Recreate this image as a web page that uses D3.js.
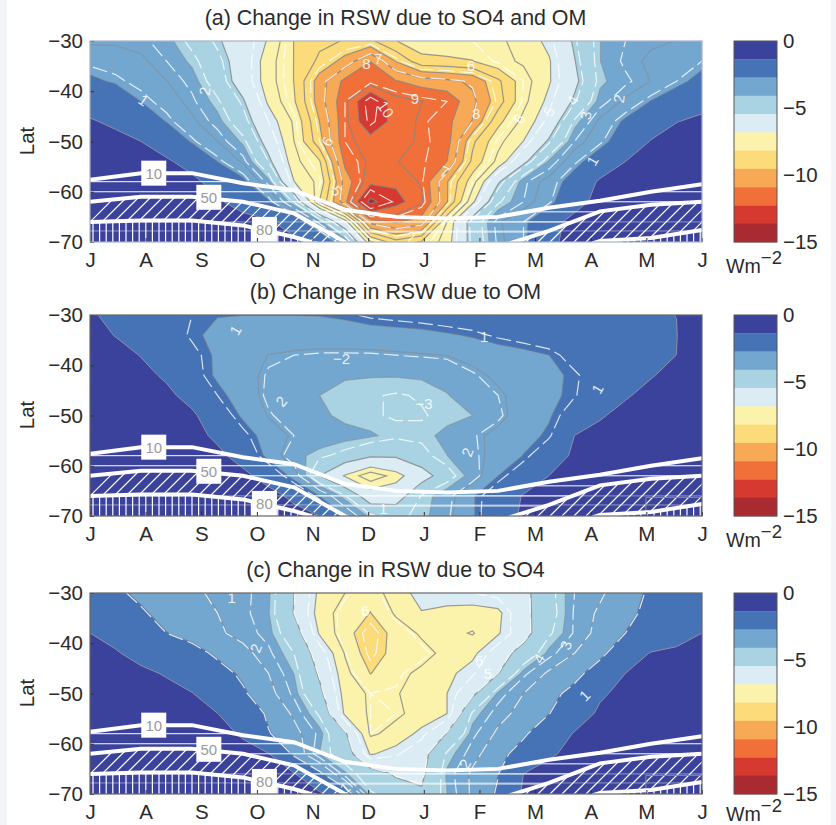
<!DOCTYPE html>
<html>
<head>
<meta charset="utf-8">
<script src="https://cdn.jsdelivr.net/npm/d3@7"></script>
<style>
  html, body { margin: 0; background: #fff; overflow: hidden; }
  svg { display: block; font-family: "Liberation Sans", Arial, sans-serif; }
</style>
</head>
<body>
<script>
// Tick labels
const months = ["J", "A", "S", "O", "N", "D", "J", "F", "M", "A", "M", "J"];
const latTicks = [-30, -40, -50, -60, -70];
const barTicks = [0, -5, -10, -15];

// Grid rows: latitude of each row of the fields below
const gridLats = [-30, -34, -38, -42, -46, -50, -54, -58, -62, -66, -70];

// Size of the RSW change in Wm-2 (sign dropped).
// One row per latitude, 25 columns evenly spaced along the time axis.
const rswA = [
  [3.5,3.5,3.6,3.9,4.6,5.35,6.0,6.9,8.2,8.7,8.9,9.0,8.2,7.8,7.8,7.8,7.6,7.3,6.6,5.3,4.1,3.7,3.5,3.4,3.4],
  [3.0,3.1,3.3,3.7,4.2,5.0,6.0,7.2,8.2,9.0,9.8,10.9,9.5,8.4,8.3,8.2,7.7,7.4,6.9,5.5,4.1,3.6,3.3,3.1,2.9],
  [2.6,2.8,3.05,3.4,3.85,4.8,5.95,7.2,8.2,9.9,11.1,11.2,10.95,10.6,10.4,10.1,9.0,7.8,6.9,5.7,4.2,3.8,3.4,2.9,2.5],
  [1.9,2.2,2.73,3.1,3.6,4.3,5.35,6.95,8.1,9.9,11.4,13.2,11.8,11.6,11.4,10.4,9.2,7.7,6.6,5.3,3.9,3.3,2.7,2.3,1.8],
  [1.25,1.6,2.2,2.75,3.3,3.9,4.9,6.4,7.6,9.55,11.4,13.0,11.9,11.5,11.1,10.2,8.4,7.3,6.2,4.3,3.3,2.6,2.0,1.4,1.1],
  [0.7,1.0,1.36,2.0,2.8,3.4,4.2,5.9,7.5,9.3,11.4,11.9,11.8,11.5,11.2,9.0,7.7,6.8,5.3,3.7,3.0,2.2,1.3,0.9,0.7],
  [0.4,0.6,0.8,1.2,1.8,2.73,3.5,5.2,7.3,8.1,11.1,11.7,11.6,11.5,10.9,8.7,7.3,5.7,4.0,3.0,2.2,1.36,0.9,0.6,0.4],
  [0.3,0.4,0.5,0.7,1.1,1.8,2.5,3.9,6.8,7.7,10.5,12.0,12.1,11.5,9.6,7.8,5.6,3.8,3.2,2.3,1.2,0.8,0.5,0.4,0.3],
  [0.2,0.3,0.3,0.5,0.8,1.2,1.9,2.6,4.5,8.2,10.7,14.0,12.6,11.7,9.6,7.0,4.5,3.7,3.0,1.8,1.0,0.6,0.4,0.3,0.2],
  [0.2,0.3,0.3,0.4,0.5,0.7,0.9,1.2,2.0,3.9,6.4,10.5,11.0,10.6,7.5,4.9,3.5,2.9,1.8,1.0,0.6,0.4,0.3,0.2,0.2],
  [0.1,0.2,0.2,0.3,0.4,0.5,0.6,0.8,1.1,1.6,3.6,7.4,8.6,8.1,7.2,5.0,3.6,2.9,1.6,1.0,0.6,0.4,0.3,0.2,0.1]
];
const rswB = [
  [1.3,1.5,1.8,2.2,2.5,2.7,2.72,2.72,2.72,2.7,2.6,2.4,2.3,2.2,2.1,2.0,1.9,1.8,1.7,1.6,1.5,1.45,1.4,1.36,0.9],
  [1.0,1.4,1.7,2.1,2.6,2.9,3.0,3.1,3.1,3.1,3.1,3.05,3.0,2.95,2.8,2.65,2.4,2.2,2.0,1.9,1.8,1.7,1.55,1.38,0.8],
  [0.7,1.0,1.4,1.8,2.3,2.85,3.2,3.42,3.5,3.55,3.55,3.55,3.5,3.45,3.4,3.25,3.1,2.95,2.73,2.2,1.95,1.75,1.6,1.36,0.7],
  [0.5,0.8,1.1,1.5,2.2,2.85,3.2,3.55,3.75,3.95,4.0,4.05,4.05,4.0,3.9,3.55,3.3,3.05,2.9,2.6,2.1,1.7,1.42,1.1,0.6],
  [0.4,0.6,0.8,1.15,1.7,2.5,3.1,3.6,3.9,4.09,4.35,4.4,4.5,4.4,4.12,3.8,3.5,3.2,2.9,2.55,2.0,1.45,1.1,0.9,0.5],
  [0.3,0.4,0.6,0.9,1.2,2.0,2.85,3.45,3.7,3.95,4.25,4.4,4.5,4.5,4.3,4.09,3.6,3.1,2.8,2.1,1.45,1.1,0.85,0.6,0.4],
  [0.3,0.3,0.4,0.7,0.95,1.6,2.3,3.1,3.5,3.7,3.85,4.0,4.3,4.3,3.9,3.55,3.25,3.0,2.6,1.36,1.1,0.85,0.6,0.5,0.3],
  [0.2,0.3,0.3,0.5,0.7,1.1,1.8,2.95,3.9,4.3,4.7,5.3,5.3,4.7,4.1,3.6,3.2,2.7,1.9,1.2,0.9,0.7,0.5,0.3,0.2],
  [0.2,0.2,0.3,0.4,0.5,0.8,1.1,1.8,3.0,5.45,6.9,8.0,7.2,6.0,4.8,3.8,2.73,2.0,1.36,1.0,0.7,0.5,0.4,0.3,0.2],
  [0.2,0.2,0.2,0.3,0.4,0.5,0.7,1.0,1.6,2.73,4.4,6.2,6.1,4.4,3.7,2.8,2.0,1.3,1.0,0.7,0.5,0.4,0.3,0.2,0.2],
  [0.1,0.1,0.2,0.2,0.3,0.4,0.5,0.7,1.0,1.36,2.73,4.3,4.6,4.3,3.6,2.8,1.9,1.2,0.9,0.6,0.4,0.3,0.2,0.2,0.1]
];
const rswC = [
  [2.2,2.55,2.9,3.1,3.3,3.5,3.7,4.0,5.45,7.0,7.5,7.9,7.1,6.6,6.5,6.4,6.2,5.8,4.6,3.8,3.5,3.0,2.6,2.3,2.0],
  [1.8,2.1,2.6,3.0,3.2,3.4,3.7,4.05,5.5,7.15,7.8,8.2,7.4,6.85,7.0,7.1,7.0,5.8,4.7,3.75,3.3,3.0,2.4,2.1,1.75],
  [1.36,1.7,2.2,2.7,3.0,3.3,3.6,3.95,4.9,6.9,7.9,8.7,7.9,7.4,7.3,7.55,6.9,5.9,4.5,3.75,3.2,2.7,2.3,1.9,1.36],
  [1.0,1.27,1.7,2.0,2.4,2.85,3.2,3.7,4.4,6.0,7.55,8.6,7.9,7.75,7.3,7.0,6.0,5.0,3.95,3.4,2.95,2.0,1.3,1.1,0.9],
  [0.6,0.8,1.15,1.45,1.9,2.4,2.85,3.4,4.1,5.6,7.3,8.2,7.7,7.35,7.0,6.5,5.5,3.9,3.3,3.0,2.2,1.36,1.0,0.8,0.6],
  [0.4,0.6,0.8,1.05,1.33,1.95,2.6,3.2,3.9,5.2,7.1,7.6,7.55,7.2,6.82,5.7,4.0,3.4,3.0,2.4,1.5,1.1,0.8,0.6,0.4],
  [0.3,0.4,0.6,0.8,1.0,1.35,2.0,2.85,3.5,4.5,6.95,7.6,7.6,7.3,6.82,4.3,3.6,3.2,2.73,1.9,1.2,0.9,0.7,0.5,0.3],
  [0.3,0.3,0.4,0.6,0.8,1.0,1.5,2.65,3.2,3.9,5.3,7.6,7.3,6.6,5.4,3.9,3.3,2.85,2.0,1.3,1.0,0.7,0.5,0.4,0.3],
  [0.2,0.3,0.3,0.4,0.6,0.8,1.0,1.33,2.9,4.09,4.8,6.9,6.5,5.9,4.3,3.6,3.0,2.3,1.5,1.1,0.8,0.6,0.4,0.3,0.2],
  [0.2,0.2,0.2,0.3,0.4,0.5,0.7,1.0,1.3,2.5,4.0,4.9,5.6,5.7,4.0,3.3,2.73,1.36,1.0,0.7,0.5,0.4,0.3,0.2,0.2],
  [0.1,0.1,0.2,0.2,0.3,0.4,0.5,0.7,0.9,1.2,2.1,4.3,4.8,5.3,4.1,3.3,2.6,1.2,0.9,0.6,0.4,0.3,0.2,0.2,0.1]
];

// White contour lines, given as levels of the field above
const whiteA = [2.9, 3.7, 4.4, 5.2, 6.4, 7.8, 9.3, 10.2, 11.4, 12.8];
const whiteB = [2.5, 3.5, 4.45];
const whiteC = [2.7, 3.4, 3.8, 4.4, 5.5, 6.4, 7.6, 8.45];

// Grey contours drawn inside the bands, on top of the band edges
const extraGrey = [3.41, 7.5, 8.86, 10.23, 11.59];

// Contour labels: text, time position (0-12), lat, rotation
const labelsA = [
  ["1", 1.05, -41.8, 35], ["2", 2.25, -40, -80], ["10", 5.8, -43.6, 55], ["8", 5.42, -34.5, 0],
  ["7", 5.65, -33.6, 0], ["6", 4.65, -50, -60], ["5", 4.84, -59.8, 50], ["9", 6.37, -41.5, 0],
  ["8", 7.57, -44.5, 0], ["7", 6.95, -56, 20], ["6", 7.47, -34.8, 0], ["6", 8.42, -45.5, -60],
  ["5", 9, -44, -60], ["4", 9.46, -41.8, -60], ["3", 9.72, -44.8, -80], ["2", 10.37, -41.5, -80],
  ["1", 9.85, -53.8, -60], ["2", 6.3, -69, 0]
];
const labelsB = [
  ["1", 2.85, -33, -60], ["\u22122", 4.93, -38.7, 0], ["2", 3.75, -47.2, -50], ["\u22123", 6.55, -47.7, 0],
  ["1", 7.73, -34.3, 0], ["1", 9.95, -44.7, -60], ["2", 7.4, -57.3, -70], ["1", 5.75, -68.6, 0]
];
const labelsC = [
  ["1", 2.78, -31, 0], ["2", 3.25, -41, -70], ["6", 5.4, -33.5, 0], ["1", 9.7, -50.4, -45],
  ["3", 9.33, -40.4, -70], ["4", 8.8, -43, -60], ["6", 7.63, -43.5, 0], ["5", 7.8, -46, 0],
  ["2", 7.35, -64, -60], ["1", 5, -68.8, -40]
];

// Sea ice lines: lat at time positions 0,1,...,12
const ice10 = [-57.6, -56.3, -56.3, -58.3, -59.7, -63.6, -65, -65.3, -65, -63.2, -61.8, -60, -58.5];
const ice50 = [-62, -61, -61, -62, -64.3, -70, -75, -75, -71, -67.8, -63.9, -62.6, -62];
const ice80 = [-66, -65.7, -65.7, -66.7, -69, -72, -76, -76, -75, -73, -69.8, -69.2, -67.6];
const iceBoxes = [["10", 1.25, -56.3], ["50", 2.33, -61.1], ["80", 3.42, -67.5]];
const iceStripes = [-58, -60, -62, -64, -66, -68];
const faintStripes = [-66, -67.8];
const cornerLine = [[12, -66.3], [10.9, -66.3], [10.9, -70]];

// Colour bands from 0 down to -15
const bandColors = ["#3b429b", "#4673b5", "#74a7d0", "#a9d3e3", "#dcecf4", "#fbf3ac",
                    "#fcdb7a", "#f8a956", "#f1703a", "#d5392f", "#a92b31"];
const bandStep = 15 / bandColors.length;

const panels = [
  { id: "a", title: "(a) Change in RSW due to SO4 and OM", field: rswA, white: whiteA, labels: labelsA, top: 41, frame: "#a9b2c2", unitGap: 31 },
  { id: "b", title: "(b) Change in RSW due to OM", field: rswB, white: whiteB, labels: labelsB, top: 315, frame: "#666", unitGap: 31 },
  { id: "c", title: "(c) Change in RSW due to SO4", field: rswC, white: whiteC, labels: labelsC, top: 593, frame: "#666", unitGap: 27 }
];

const width = 836, height = 825;
const left = 90, plotW = 612, plotH = 201;
const barX = 734, barW = 43;

const svg = d3.select("body").append("svg")
    .attr("width", width)
    .attr("height", height);

// Pale strips at the page edges
svg.append("rect").attr("width", 7).attr("height", height).attr("fill", "#f3f4f8");
svg.append("rect").attr("x", 831).attr("width", 5).attr("height", height).attr("fill", "#f3f4f8");

const x = d3.scaleLinear().domain([0, 12]).range([0, plotW]);
const xMonth = d3.scaleLinear().domain([0, months.length - 1]).range([0, plotW]);
const y = d3.scaleLinear().domain([-30, -70]).range([0, plotH]);
const yBar = d3.scaleLinear().domain([0, -15]).range([0, plotH]);

const cols = rswA[0].length, rows = gridLats.length;
const contours = d3.contours().size([cols, rows]).smooth(true);

// d3.contours works in cell units with each value at the centre of its cell
const path = d3.geoPath(d3.geoTransform({
  point(c, r) {
    const t = (c - 0.5) * 12 / (cols - 1);
    const lat = gridLats[0] + (r - 0.5) * (gridLats[rows - 1] - gridLats[0]) / (rows - 1);
    this.stream.point(x(t), y(lat));
  }
}));

const iceLine = d3.line().x((d, i) => x(i)).y(d => y(d));
const iceTimes = d3.range(ice10.length);
const between = (upper, lower) => d3.area()
    .x(i => x(i)).y0(i => y(upper[i])).y1(i => y(lower[i]))(iceTimes);
const belowLine = (upper) => d3.area()
    .x(i => x(i)).y0(i => y(upper[i])).y1(() => plotH + 5)(iceTimes);

panels.forEach(p => {
  const g = svg.append("g").attr("transform", `translate(${left},${p.top})`);
  const defs = g.append("defs");
  const clip = (name, d) => defs.append("clipPath").attr("id", `${name}-${p.id}`).append("path").attr("d", d);
  clip("plot", `M0,0H${plotW}V${plotH}H0Z`);
  clip("band", between(ice10, ice50));
  clip("diag", between(ice50, ice80));
  clip("vert", belowLine(ice80));

  // Title
  svg.append("text")
      .attr("x", 395.5)
      .attr("y", p.top - 16)
      .attr("text-anchor", "middle")
      .attr("font-size", 21.4)
      .attr("fill", "#2b2b2b")
      .text(p.title);

  const plot = g.append("g").attr("clip-path", `url(#plot-${p.id})`);
  const values = p.field.flat();

  // Filled bands, painted from the outside in
  plot.append("rect").attr("width", plotW).attr("height", plotH).attr("fill", bandColors[0]);
  const levels = bandColors.slice(1).map((c, i) => (i + 1) * bandStep);
  plot.selectAll(".band")
    .data(contours.thresholds(levels)(values))
    .enter().append("path")
      .attr("class", "band")
      .attr("d", path)
      .attr("fill", (d, i) => bandColors[i + 1]);

  // Grey contours on the band edges and inside the warm bands
  const greyLevels = levels.slice(1).concat(extraGrey).sort(d3.ascending);
  plot.selectAll(".grey")
    .data(contours.thresholds(greyLevels)(values))
    .enter().append("path")
      .attr("class", "grey")
      .attr("d", path)
      .attr("fill", "none")
      .attr("stroke", "#858585")
      .attr("stroke-width", 1.2)
      .attr("stroke-opacity", d => d.value < 5 ? 0.5 : 0.8);
  plot.append("path")
      .datum(contours.thresholds([bandStep])(values)[0])
      .attr("d", path)
      .attr("fill", "none")
      .attr("stroke", "#8f8fa8")
      .attr("stroke-width", 1);

  // White contours
  plot.selectAll(".white")
    .data(contours.thresholds(p.white)(values))
    .enter().append("path")
      .attr("class", "white")
      .attr("d", path)
      .attr("fill", "none")
      .attr("stroke", "#fff")
      .attr("stroke-opacity", 0.8)
      .attr("stroke-width", 1.2)
      .attr("stroke-dasharray", "15 5");

  // Hatching between the sea ice lines
  const hatch = plot.append("g").attr("stroke", "#fff").attr("fill", "none");
  const stripes = hatch.append("g").attr("clip-path", `url(#band-${p.id})`).attr("stroke-width", 1);
  stripes.selectAll("line").data(iceStripes).enter().append("line")
      .attr("x1", 0).attr("x2", plotW)
      .attr("y1", d => y(d)).attr("y2", d => y(d));
  hatch.append("g").attr("stroke-opacity", 0.45).attr("stroke-width", 1)
    .selectAll("line").data(faintStripes).enter().append("line")
      .attr("x1", 0).attr("x2", plotW)
      .attr("y1", d => y(d)).attr("y2", d => y(d));
  hatch.append("g").attr("clip-path", `url(#diag-${p.id})`).attr("stroke-width", 1.2)
    .selectAll("line").data(d3.range(-20, plotW + 60, 12)).enter().append("line")
      .attr("x1", d => d).attr("y1", plotH)
      .attr("x2", d => d + 50).attr("y2", plotH - 50);
  hatch.append("g").attr("clip-path", `url(#vert-${p.id})`).attr("stroke-width", 1.2)
    .selectAll("line").data(d3.range(3, plotW, 6.6)).enter().append("line")
      .attr("x1", d => d).attr("x2", d => d)
      .attr("y1", plotH - 40).attr("y2", plotH);

  // Small grey outline in the corner of the lower panels
  if (p.id !== "a") {
    plot.append("path")
        .datum(cornerLine)
        .attr("d", d3.line().x(d => x(d[0])).y(d => y(d[1])))
        .attr("fill", "none")
        .attr("stroke", "#8a8a9a");
  }

  // Sea ice lines
  plot.selectAll(".ice")
    .data([ice10, ice50, ice80])
    .enter().append("path")
      .attr("class", "ice")
      .attr("d", iceLine)
      .attr("fill", "none")
      .attr("stroke", "#fff")
      .attr("stroke-width", 4);

  // Contour labels
  plot.selectAll(".clabel")
    .data(p.labels)
    .enter().append("text")
      .attr("class", "clabel")
      .attr("transform", d => `translate(${x(d[1])},${y(d[2])}) rotate(${d[3]})`)
      .attr("text-anchor", "middle")
      .attr("dy", "0.36em")
      .attr("font-size", 15)
      .attr("fill", "#fff")
      .attr("fill-opacity", 0.85)
      .text(d => d[0]);

  // Sea ice labels in white boxes
  const box = g.selectAll(".icebox").data(iceBoxes).enter().append("g")
      .attr("class", "icebox")
      .attr("transform", d => `translate(${x(d[1])},${y(d[2])})`);
  box.append("rect")
      .attr("x", -12.5).attr("y", -12.5).attr("width", 25).attr("height", 25)
      .attr("fill", "#fff");
  box.append("text")
      .attr("text-anchor", "middle")
      .attr("dy", "0.36em")
      .attr("font-size", 15)
      .attr("fill", "#9a9a9a")
      .text(d => d[0]);

  // Axes
  const styleAxis = sel => {
    sel.select(".domain").remove();
    sel.selectAll("line").attr("stroke", "#333");
    sel.selectAll("text").attr("font-size", 20.5).attr("fill", "#2b2b2b").attr("font-family", "Liberation Sans");
  };
  g.append("g")
      .call(d3.axisLeft(y).tickValues(latTicks).tickSizeInner(-4).tickSizeOuter(0).tickPadding(7))
      .call(styleAxis);
  g.append("g")
      .attr("transform", `translate(0,${plotH})`)
      .call(d3.axisBottom(xMonth).tickValues(d3.range(months.length)).tickFormat(i => months[i])
            .tickSizeInner(-4).tickSizeOuter(0).tickPadding(10))
      .call(styleAxis);
  g.append("rect")
      .attr("width", plotW).attr("height", plotH)
      .attr("fill", "none").attr("stroke", p.frame).attr("stroke-width", 1.2);

  svg.append("text")
      .attr("transform", `translate(34,${p.top + 100}) rotate(-90)`)
      .attr("text-anchor", "middle")
      .attr("font-size", 20.5)
      .attr("fill", "#2b2b2b")
      .text("Lat");

  // Colour bar
  const bar = svg.append("g").attr("transform", `translate(${barX},${p.top})`);
  bar.selectAll("rect")
    .data(bandColors)
    .enter().append("rect")
      .attr("y", (d, i) => yBar(-i * bandStep))
      .attr("width", barW)
      .attr("height", yBar(-bandStep) + 0.3)
      .attr("fill", d => d);
  bar.append("rect")
      .attr("width", barW).attr("height", plotH)
      .attr("fill", "none").attr("stroke", "#555");
  bar.append("g")
      .attr("transform", `translate(${barW},0)`)
      .call(d3.axisRight(yBar).tickValues(barTicks).tickSizeInner(0).tickSizeOuter(0).tickPadding(6))
      .call(sel => {
        sel.select(".domain").remove();
        sel.selectAll("text").attr("font-size", 20.5).attr("fill", "#2b2b2b").attr("font-family", "Liberation Sans");
      });
  const unit = bar.append("text")
      .attr("x", -8)
      .attr("y", plotH + p.unitGap)
      .attr("font-size", 19.6)
      .attr("fill", "#2b2b2b");
  unit.append("tspan").text("Wm");
  unit.append("tspan").attr("dy", -9).attr("font-size", 18.5).text("\u22122");
});
</script>
</body>
</html>
